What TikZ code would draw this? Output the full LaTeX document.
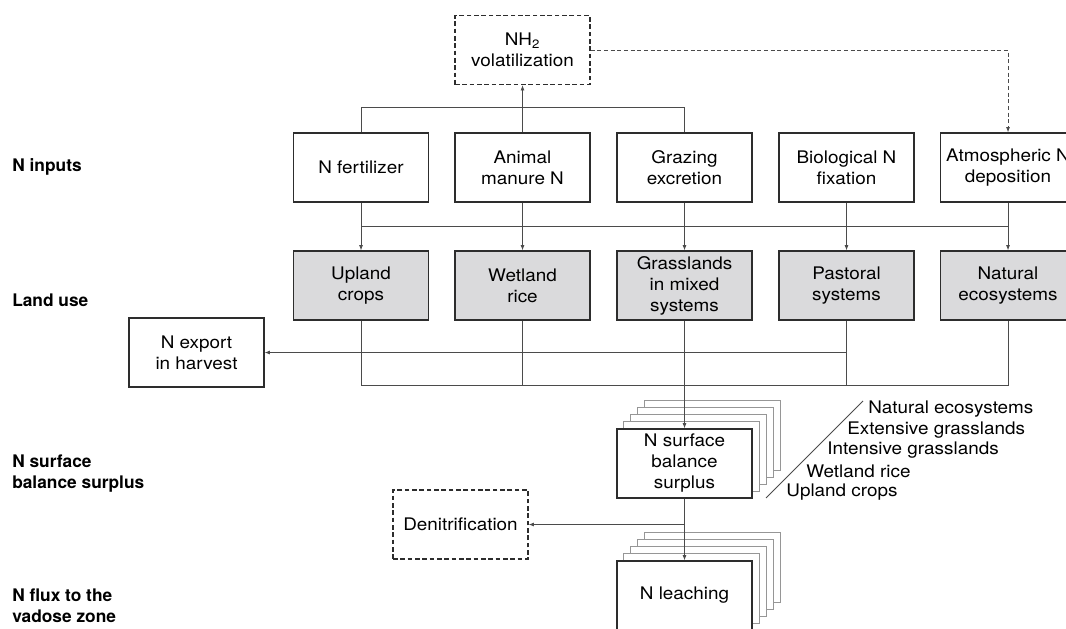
\documentclass[tikz,border=0pt]{standalone}
\usepackage{fontspec}
\setmainfont{TeX Gyre Heros}
\newfontfamily\boxfont{TeX Gyre Heros}[FakeStretch=1.09]
\usetikzlibrary{arrows.meta, positioning, calc, backgrounds}
\definecolor{BoxLine}{RGB}{45,45,45}
\definecolor{LinkGray}{RGB}{75,75,75}
\definecolor{LandFill}{RGB}{218,218,220}
\definecolor{StackGray}{RGB}{150,150,150}

\begin{document}
\begin{tikzpicture}[x=0.75pt, y=-0.75pt,
    every node/.style={font=\boxfont\fontsize{13}{15.75}\selectfont},
    box/.style={draw=BoxLine, line width=0.9pt, fill=white, minimum width=101.25pt, minimum height=51.75pt, align=center, inner sep=1pt},
    land/.style={box, fill=LandFill},
    loss/.style={box, dash pattern=on 3.5pt off 2pt},
    link/.style={draw=LinkGray, line width=0.6pt},
    arr/.style={link, -{Latex[length=4pt, width=3pt]}},
    tier/.style={font=\rmfamily\fontsize{13}{15.75}\selectfont\bfseries, align=left, anchor=west, inner sep=0pt},
    tag/.style={anchor=west, inner sep=0pt}]
    \useasboundingbox (0,0) rectangle (1066,628);

    % Row labels
    \node[tier] (tinputs) at (12,167) {N inputs};
    \node[tier] (tland) at (12,300) {Land use};
    \node[tier] (tsurplus) at (12,474) {N surface\\balance surplus};
    \node[tier] (tflux) at (12,606) {N flux to the\\vadose zone};

    % Volatilization
    \node[loss] (vol) at (522.5,50) {NH\textsubscript{2}\\volatilization};

    % N inputs
    \node[box] (fert) at (361,167.5) {N fertilizer};
    \node[box] (manure) at (522.5,167.5) {Animal\\manure N};
    \node[box] (graz) at (684.5,167.5) {Grazing\\excretion};
    \node[box] (bio) at (846.5,167.5) {Biological N\\fixation};
    \node[box] (atm) at (1008,167.5) {Atmospheric N\\deposition};

    % Land use
    \node[land] (upl) at (361,285.5) {Upland\\crops};
    \node[land] (wet) at (522.5,285.5) {Wetland\\rice};
    \node[land] (grass) at (684.5,285.5) {Grasslands\\in mixed\\systems};
    \node[land] (past) at (846.5,285.5) {Pastoral\\systems};
    \node[land] (nat) at (1008,285.5) {Natural\\ecosystems};

    % Outputs
    \node[box] (export) at (196.5,352.5) {N export\\in harvest};
    \node[box] (surp) at (684.5,463.5) {N surface\\balance\\surplus};
    \node[box] (leach) at (684.5,595.5) {N leaching};
    \node[loss] (denit) at (460.5,524.5) {Denitrification};

    % Stacked copies behind the balance boxes
    \begin{scope}[on background layer]
        \foreach \n in {surp, leach}
            \foreach \i in {4,3,2,1}
                \draw[StackGray, line width=0.7pt, fill=white] ([shift={(7*\i,-7*\i)}]\n.south west) rectangle ([shift={(7*\i,-7*\i)}]\n.north east);
    \end{scope}

    % Links to volatilization
    \draw[link] (fert.north) -- ++(0,-25) -| (graz.north);
    \draw[arr] (manure.north) -- (vol.south);
    \draw[arr, dash pattern=on 3pt off 2pt] (vol.east) -| (atm.north);

    % Inputs to land use
    \foreach \a/\b in {fert/upl, manure/wet, graz/grass, bio/past, atm/nat}
        \draw[arr] (\a) -- (\b);
    \draw[link] ($(fert.south)!0.5!(upl.north)$) -- ($(atm.south)!0.5!(nat.north)$);

    % Land use to outputs
    \draw[link] (upl.south) -- ++(0,65) -| (nat.south);
    \draw[link] (wet.south) -- ++(0,65);
    \draw[link] (past.south) -- ++(0,65);
    \draw[arr] (past.south |- export.east) -- (export.east);
    \draw[arr] (grass) -- (surp);
    \draw[arr] (surp) -- (leach);
    \draw[arr] (surp.south |- denit.east) -- (denit.east);

    % Land use classes of the stack
    \coordinate (slashlo) at (766,498);
    \coordinate (slashhi) at (863,401);
    \draw[link] (slashlo) -- (slashhi);
    \node[tag] (cnat) at (868,409) {Natural ecosystems};
    \node[tag] (cext) at (847,430) {Extensive grasslands};
    \node[tag] (cint) at (827,450) {Intensive grasslands};
    \node[tag] (cwet) at (806,471) {Wetland rice};
    \node[tag] (cupl) at (786,492) {Upland crops};
\end{tikzpicture}
\end{document}
